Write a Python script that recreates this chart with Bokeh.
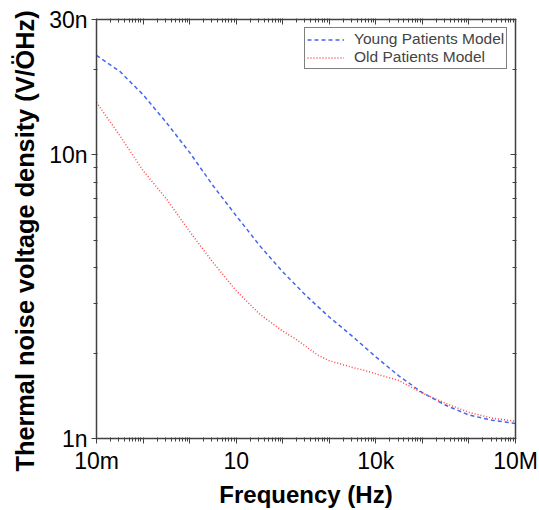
from bokeh.plotting import figure
from bokeh.models import LogAxis, FixedTicker, CustomJSTickFormatter, Legend, LegendItem, Title
from bokeh.embed import file_html
from bokeh.resources import INLINE

# Frequency (Hz) samples, young model (half-decade readings)
freq_young = [0.01, 0.0316, 0.1, 0.316, 1, 3.16, 10, 31.6, 100, 316, 1e3, 3160,
              1e4, 31600, 1e5, 316000, 1e6, 3.16e6, 1e7]
# Thermal noise voltage density (nV/sqrt(Hz))
young = [22.4, 19.7, 16.3, 13.0, 10.2, 7.8, 6.1, 4.8, 3.87, 3.19, 2.68, 2.29,
         1.94, 1.66, 1.45, 1.31, 1.21, 1.16, 1.13]
# Old model readings (denser around the shoulder)
freq_old = [0.01, 0.0316, 0.1, 0.316, 1, 3.16, 10, 31.6, 100, 178, 316, 562,
            1e3, 1780, 3160, 5620, 1e4, 31600, 1e5, 316000, 1e6, 3.16e6, 1e7]
old = [15.3, 11.7, 8.8, 7.0, 5.37, 4.18, 3.32, 2.75, 2.39, 2.26, 2.11, 1.97,
       1.88, 1.83, 1.78, 1.74, 1.69, 1.60, 1.445, 1.33, 1.236, 1.18, 1.15]

x_major = [0.01, 0.1, 1, 10, 100, 1e3, 1e4, 1e5, 1e6, 1e7]
x_labels = ["10m", "", "", "10", "", "", "10k", "", "", "10M"]
x_minor = [m * d for d in x_major[:-1] for m in range(2, 10)]
y_major = [1, 10, 30]
y_labels = ["1n", "10n", "30n"]
y_minor = [2, 3, 4, 5, 6, 7, 8, 9, 20]

FONT = "Liberation Sans"
AX = "#404040"

p = figure(width=539, height=510, x_axis_type="log", y_axis_type="log",
           x_range=(0.01, 1e7), y_range=(1, 30),
           output_backend="svg", toolbar_location=None,
           min_border_left=96, min_border_right=24, min_border_top=19,
           min_border_bottom=72)
p.grid.visible = False
p.outline_line_color = None
p.background_fill_color = "white"

fmt_code = """
for (let i = 0; i < vals.length; i++) {
  if (Math.abs(Math.log10(tick) - Math.log10(vals[i])) < 1e-6) return labs[i];
}
return "";
"""

def style(ax, ticks, minors, labels, inward, show):
    ax.ticker = FixedTicker(ticks=ticks, minor_ticks=minors)
    ax.axis_line_color = AX
    ax.axis_line_width = 1.5
    ax.major_tick_line_color = AX
    ax.minor_tick_line_color = AX
    if inward:
        ax.major_tick_in = 5
        ax.major_tick_out = 1
        ax.minor_tick_in = 3
        ax.minor_tick_out = 1
    else:
        ax.major_tick_in = 1
        ax.major_tick_out = 5
        ax.minor_tick_in = 1
        ax.minor_tick_out = 3
    if show:
        ax.formatter = CustomJSTickFormatter(args=dict(vals=ticks, labs=labels), code=fmt_code)
        ax.major_label_text_font = FONT
        ax.major_label_text_font_size = "23px"
        ax.major_label_text_color = "black"
        ax.major_label_standoff = 4
    else:
        ax.formatter = CustomJSTickFormatter(code="return ''")
        ax.major_label_text_font_size = "0px"
        ax.major_label_standoff = 0

xb = p.xaxis[0]
yl = p.yaxis[0]
style(xb, x_major, x_minor, x_labels, False, True)
style(yl, y_major, y_minor, y_labels, False, True)
xb.axis_label = "Frequency (Hz)"
xb.axis_label_text_font = FONT
xb.axis_label_text_font_style = "bold"
xb.axis_label_text_font_size = "24px"
xb.axis_label_text_color = "black"
xb.axis_label_standoff = 4

xt = LogAxis()
style(xt, x_major, x_minor, x_labels, True, False)
p.add_layout(xt, "above")
yr = LogAxis()
style(yr, y_major, y_minor, y_labels, True, False)
p.add_layout(yr, "right")

ytitle = Title(text="Thermal noise voltage density (V/\u00d6Hz)", align="left",
               offset=-33, standoff=16, text_font=FONT, text_font_style="bold",
               text_font_size="25.3px", text_color="black")
p.add_layout(ytitle, "left")

r1 = p.line(freq_young, young, line_color="#4466ee", line_width=1.5, line_dash="4 3")
r2 = p.line(freq_old, old, line_color="#ff4444", line_width=1.5, line_dash="1 2")

legend = Legend(items=[LegendItem(label="Young Patients Model", renderers=[r1]),
                       LegendItem(label="Old Patients Model", renderers=[r2])],
                location=(208, 369))
legend.border_line_color = "black"
legend.border_line_width = 1
legend.label_text_font = FONT
legend.label_text_font_size = "15.5px"
legend.glyph_width = 37
legend.glyph_height = 15
legend.label_height = 15
legend.label_standoff = 10
legend.padding = 2
legend.spacing = 0
legend.margin = 0
p.add_layout(legend)

open("out.html", "w").write(file_html(p, INLINE))
